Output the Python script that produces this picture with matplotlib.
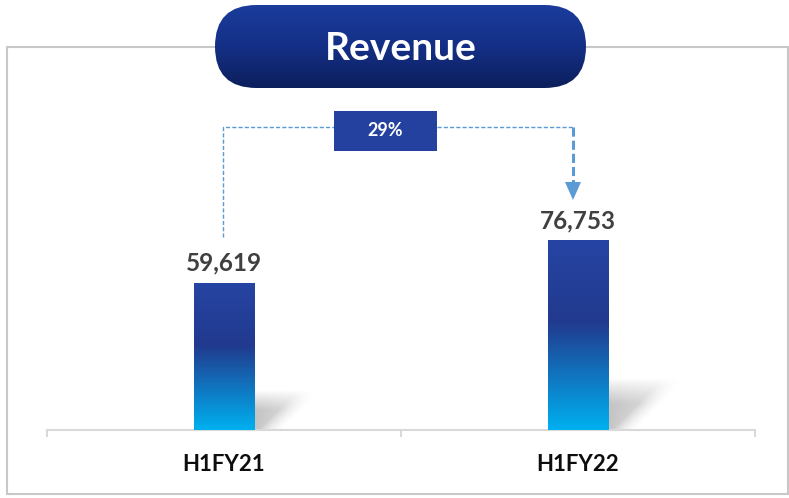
import numpy as np
import matplotlib
matplotlib.use("Agg")
import matplotlib.pyplot as plt
from matplotlib.patches import Rectangle, FancyBboxPatch, Polygon
from matplotlib.colors import LinearSegmentedColormap

# ---------------- data ----------------
categories = ["H1FY21", "H1FY22"]
revenue = [59619, 76753]
title = "Revenue"

growth = (revenue[1] / revenue[0] - 1) * 100
growth_label = f"{growth:.0f}%"

# ---------------- layout ----------------
W, H = 789, 498
FONT = ["Lato", "DejaVu Sans"]
plt.rcParams["font.family"] = FONT

fig = plt.figure(figsize=(W / 100, H / 100), dpi=100)
fig.patch.set_facecolor("white")

# overlay axes in pixel units (frame + title pill)
ax0 = fig.add_axes([0, 0, 1, 1], zorder=0)
ax0.set_xlim(0, W)
ax0.set_ylim(H, 0)
ax0.axis("off")

frame = Rectangle((7, 47), 781, 447, fill=False, ec="#c8c8c8", lw=1.5, zorder=1)
ax0.add_patch(frame)

pill = FancyBboxPatch((215, 5), 371, 83, boxstyle="round,pad=0,rounding_size=41.5",
                      fc="none", ec="none", zorder=2)
ax0.add_patch(pill)
pill_cmap = LinearSegmentedColormap.from_list("pill", ["#1b3c9c", "#142f86", "#0c1f5c"])
grad = np.linspace(0, 1, 256).reshape(-1, 1)
im = ax0.imshow(grad, cmap=pill_cmap, extent=(215, 586, 88, 5), origin="upper",
                aspect="auto", zorder=3)
im.set_clip_path(pill)
ax0.set_xlim(0, W)
ax0.set_ylim(H, 0)
ax0.text(400.5, 48, title, ha="center", va="center", color="white",
         fontsize=28, fontweight="bold", zorder=4)

# main data axes
axL, axB, axW, axH = 47, 430, 708, 383   # pixel geometry
ax = fig.add_axes([axL / W, (H - axB) / H, axW / W, axH / H], zorder=1)
ax.set_facecolor("none")
ymax = 155000
ax.set_xlim(-0.5, 1.5)
ax.set_ylim(0, ymax)

def dx(px):
    return px * 2.0 / axW

def dy(px):
    return px * ymax / axH

x = np.arange(len(categories))
bw = 0.17
bar_cmap = LinearSegmentedColormap.from_list(
    "bar", [(0.0, "#00b0f0"), (0.57, "#213a8e"), (1.0, "#2644a3")])

def make_shadow(bar_px):
    hs = 0.27 * bar_px
    sw, sh = 95, int(hs * 1.15) + 2
    uu, vv = np.meshgrid(np.arange(sw) + 0.5, np.arange(sh) + 0.5)
    right = 16 + 1.0 * vv
    a_r = np.clip((right - uu) / 24 + 0.5, 0, 1)
    a_t = np.clip((hs - vv) / (0.5 * hs), 0, 1)
    a_u = 1 - 0.35 * np.clip(uu / np.maximum(right, 1), 0, 1)
    alpha = 0.24 * a_r ** 1.3 * a_t ** 0.9 * a_u
    img = np.zeros((sh, sw, 4))
    img[..., 3] = alpha
    return img, sw, sh

bars = ax.bar(x, revenue, width=bw, color="none", lw=0, zorder=3)
for xi, v, rect in zip(x, revenue, bars):
    bar_px = v / ymax * axH
    shadow, sw, sh = make_shadow(bar_px)
    ax.imshow(shadow, extent=(xi + bw / 2, xi + bw / 2 + dx(sw), 0, dy(sh)),
              origin="lower", aspect="auto", zorder=2, interpolation="bilinear")
    gi = ax.imshow(grad, cmap=bar_cmap, extent=(xi - bw / 2, xi + bw / 2, 0, v),
                   origin="lower", aspect="auto", zorder=3)
    gi.set_clip_path(rect)
    ax.annotate(f"{v:,}", (xi, v), xytext=(0, 8.5), textcoords="offset points",
                ha="center", va="baseline", fontsize=17.5, fontweight="bold",
                color="#404040", zorder=5)

ax.set_xlim(-0.5, 1.5)
ax.set_ylim(0, ymax)

# axis styling
for s in ["left", "right", "top"]:
    ax.spines[s].set_visible(False)
ax.spines["bottom"].set_color("#d9d9d9")
ax.spines["bottom"].set_linewidth(1.5)
ax.set_yticks([])
ax.set_xticks([-0.5, 0.5, 1.5])
ax.set_xticklabels([])
ax.tick_params(axis="x", which="major", length=5, width=1.5, color="#d9d9d9", direction="out")
ax.set_xticks(x, minor=True)
ax.set_xticklabels(categories, minor=True)
ax.tick_params(axis="x", which="minor", length=0, pad=17, labelsize=16, labelcolor="#0d0d0d")
for t in ax.get_xticklabels(minor=True):
    t.set_fontweight("bold")

# growth connector
line_c = "#5b9bd5"
y_top = dy(303)
box_cx = -0.5 + dx(385.5 - axL)
box_w, box_h = dx(103), dy(40)
box_cy = dy(299)
x_left = x[0] - dx(1)
x_arrow = x[1] - dx(5)
ax.plot([x_left, x_left, box_cx - box_w / 2], [dy(193), y_top, y_top],
        color=line_c, lw=1.0, ls=(0, (3, 1.5)), clip_on=False, zorder=4)
ax.plot([box_cx + box_w / 2, x_arrow], [y_top, y_top],
        color=line_c, lw=1.0, ls=(0, (3, 1.5)), clip_on=False, zorder=4)
ax.plot([x_arrow, x_arrow], [y_top, dy(248)],
        color=line_c, lw=2.2, ls=(0, (3, 1.3)), clip_on=False, zorder=4)
ax.add_patch(Polygon([(x_arrow - dx(8), dy(248)), (x_arrow + dx(8), dy(248)),
                      (x_arrow, dy(230))], closed=True, fc=line_c, ec="none",
                     clip_on=False, zorder=4))
ax.add_patch(Rectangle((box_cx - box_w / 2, box_cy - box_h / 2), box_w, box_h,
                       fc="#2541a0", ec="none", clip_on=False, zorder=5))
ax.text(box_cx, box_cy, growth_label, ha="center", va="center", color="white",
        fontsize=13, fontweight="bold", zorder=6)

fig.savefig("out.png", dpi=100, facecolor="white")
